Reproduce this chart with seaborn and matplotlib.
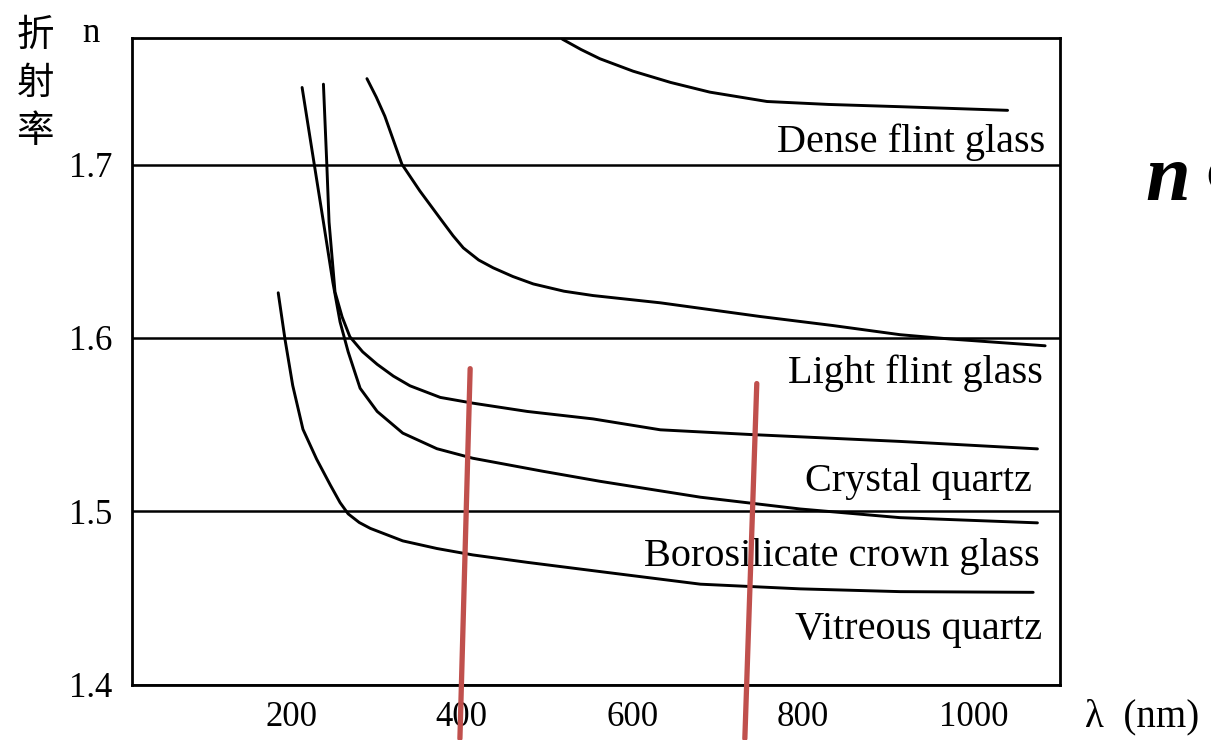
import pandas as pd
import matplotlib
matplotlib.use("Agg")
import matplotlib.pyplot as plt
import seaborn as sns

# refractive index curves (wavelength nm, n)
dense_nm = [518, 540, 562, 601, 645, 691, 758, 830, 914, 1040]
dense_n = [1.7725, 1.7665, 1.7612, 1.7540, 1.7475, 1.7419, 1.7365, 1.7348, 1.7335, 1.7314]

light_nm = [289, 300, 310, 330, 351, 375, 390, 402, 420, 437, 460, 484, 520, 554, 633,
            750, 835, 914, 973, 1084]
light_n = [1.7497, 1.7390, 1.7280, 1.7003, 1.6849, 1.6689, 1.6590, 1.6520, 1.6450,
           1.6405, 1.6355, 1.6312, 1.6270, 1.6245, 1.6203, 1.6124, 1.6072, 1.6019,
           1.5994, 1.5955]

crystal_nm = [238, 242, 244.6, 251.6, 259.9, 269, 284, 301, 320, 339.5, 375, 413,
              477, 554, 633, 738, 914, 1075]
crystal_n = [1.7465, 1.6998, 1.6669, 1.6265, 1.6122, 1.6007, 1.5920, 1.5848, 1.5780,
             1.5724, 1.5657, 1.5624, 1.5576, 1.5533, 1.5470, 1.5443, 1.5403, 1.5360]

boro_nm = [213, 225, 238, 249, 257.5, 267, 281, 301, 331, 371, 413, 495, 562, 680,
           797, 914, 1075]
boro_n = [1.7446, 1.7072, 1.6669, 1.6323, 1.6093, 1.5920, 1.5710, 1.5576, 1.5451,
          1.5361, 1.5306, 1.5231, 1.5173, 1.5081, 1.5013, 1.4963, 1.4933]

vitreous_nm = [185, 193, 202, 214, 230, 246, 257.5, 267, 280, 293, 331, 371, 413, 477,
               562, 680, 797, 914, 1070]
vitreous_n = [1.6261, 1.5991, 1.5726, 1.5473, 1.5301, 1.5152, 1.5050, 1.4985, 1.4935,
              1.4901, 1.4829, 1.4785, 1.4748, 1.4705, 1.4652, 1.4579, 1.4552, 1.4536,
              1.4532]

materials = ["Dense flint glass", "Light flint glass", "Crystal quartz",
             "Borosilicate crown glass", "Vitreous quartz"]
# label anchor (right edge, centre) for each material
label_nm = [1084, 1081, 1069, 1078, 1081]
label_n = [1.7132, 1.5794, 1.5170, 1.4738, 1.4316]

x_ticks = [200, 400, 600, 800, 1000]
y_ticks = [1.4, 1.5, 1.6, 1.7]

# hand-drawn red marks on the scan
red_nm = [[410, 398], [746, 732]]
red_n = [[1.5823, 1.3688], [1.5737, 1.3688]]

curves = [(dense_nm, dense_n), (light_nm, light_n), (crystal_nm, crystal_n),
          (boro_nm, boro_n), (vitreous_nm, vitreous_n)]
df = pd.concat([pd.DataFrame({"wavelength": x, "n": y, "material": m})
                for m, (x, y) in zip(materials, curves)], ignore_index=True)

sns.set_theme(style="white")
plt.rcParams["font.family"] = ["Liberation Serif", "DejaVu Serif"]
plt.rcParams["text.color"] = "black"

fig = plt.figure(figsize=(12.11, 7.40), dpi=100)
ax = fig.add_axes([0.109, 0.075, 0.766, 0.874])

sns.lineplot(data=df, x="wavelength", y="n", hue="material",
             palette={m: "black" for m in materials}, sort=False,
             linewidth=2.1, legend=False, ax=ax)

for m, xn, yn in zip(materials, label_nm, label_n):
    ax.text(xn, yn, m, ha="right", va="center", fontsize=29, color="black")

for xs, ys in zip(red_nm, red_n):
    ax.plot(xs, ys, color="#c0504d", linewidth=3.8, clip_on=False, zorder=5)

ax.set_xlim(13.6, 1101)
ax.set_ylim(1.4, 1.7733)
ax.set_xticks(x_ticks)
ax.set_yticks(y_ticks)
ax.set_yticklabels([f"{v:.1f}" for v in y_ticks])
ax.yaxis.grid(True, color="black", linewidth=1.8)
ax.xaxis.grid(False)
ax.tick_params(direction="in", length=7, width=1.5, colors="black",
               labelsize=25, pad=14)
ax.tick_params(axis="x", pad=12)
for s in ax.spines.values():
    s.set_color("black")
    s.set_linewidth(2.0)
ax.set_xlabel("")
ax.set_ylabel("")

fig.text(0.075, 0.955, "n", fontsize=25, ha="center", va="center")
fig.text(0.029, 0.978, "折\n射\n率", fontsize=27, ha="center", va="top",
         linespacing=1.3, family=["Noto Sans CJK SC", "DejaVu Sans"])
fig.text(0.896, 0.031, "λ  (nm)", fontsize=28, ha="left", va="center")
fig.text(0.9455, 0.7297, "n", fontsize=58, style="italic", weight="bold",
         ha="left", va="baseline")
fig.text(0.990, 0.7297, "∝", fontsize=58, ha="left", va="baseline")

fig.savefig("out.png", dpi=100, facecolor="white")
